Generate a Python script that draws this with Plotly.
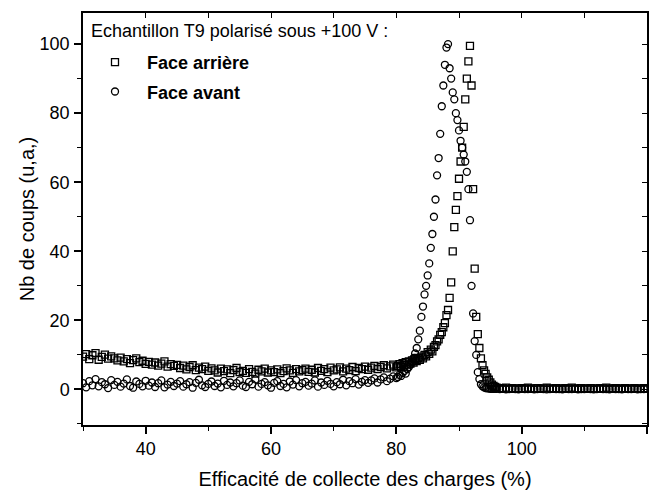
import plotly.graph_objects as go

# ---------------- data ----------------
# bin positions (charge collection efficiency, %)
x_low = [30 + 0.5 * i for i in range(101)]        # 30.0 .. 80.0
x_peak = [80.25 + 0.25 * i for i in range(64)]    # 80.25 .. 96.0
x_tail = [96.5 + 0.5 * i for i in range(48)]      # 96.5 .. 120.0

# Face arrière (squares)
arriere_low = [
    9.5, 10.2, 8.8, 9.9, 10.5, 8.6, 9.4, 10.1, 8.9, 9.6, 9.0,
    8.4, 9.2, 8.1, 8.8, 7.6, 8.5, 9.0, 7.9, 8.3, 7.4,
    8.0, 7.2, 7.8, 6.9, 7.5, 8.1, 6.6, 7.3, 6.8, 7.1,
    6.2, 6.9, 5.8, 6.5, 7.0, 5.6, 6.3, 5.9, 6.6, 5.4,
    6.1, 5.5, 4.9, 6.0, 5.3, 5.8, 4.7, 5.6, 6.2, 5.0,
    5.4, 4.8, 5.9, 5.1, 4.6, 5.7, 5.2, 6.0, 4.9, 5.5,
    5.0, 5.8, 4.7, 5.3, 6.1, 5.5, 4.8, 5.9, 5.2, 5.6,
    6.0, 5.1, 5.7, 4.9, 6.2, 5.4, 5.9, 5.0, 6.3, 5.5,
    5.8, 6.4, 5.2, 6.0, 5.6, 6.5, 5.3, 6.2, 5.9, 6.6,
    5.7, 6.3, 6.8, 5.9, 6.5, 7.0, 6.1, 6.7, 7.2, 6.4,
]
arriere_peak = [
    6.8, 7.3, 6.5, 7.6, 7.0, 7.9, 7.2, 8.1,
    7.5, 8.4, 7.8, 8.8, 8.2, 9.1, 8.6, 9.5,
    9.0, 10.0, 9.6, 10.8, 10.3, 11.5, 11.0, 12.3,
    12.8, 13.9, 14.5, 15.8, 16.6, 18.0, 19.2, 21.5,
    23.0, 26.5, 31.0, 40.0, 47.0, 52.0, 56.0, 61.0,
    66.0, 70.0, 76.0, 84.0, 90.0, 95.0, 99.5, 88.0,
    58.0, 35.0, 21.0, 16.0, 12.0, 9.0, 7.0, 5.5,
    4.5, 3.5, 2.8, 2.0, 1.4, 1.0, 0.7, 0.5,
]
arriere_tail = [
    0.4, 0.3, 0.5, 0.2, 0.4, 0.3, 0.2, 0.4, 0.3, 0.5, 0.2, 0.3,
    0.4, 0.2, 0.3, 0.5, 0.3, 0.2, 0.4, 0.3, 0.2, 0.4, 0.3, 0.5,
    0.2, 0.3, 0.4, 0.2, 0.3, 0.4, 0.3, 0.2, 0.4, 0.3, 0.5, 0.2,
    0.3, 0.4, 0.2, 0.3, 0.4, 0.3, 0.2, 0.4, 0.3, 0.2, 0.4, 0.3,
]

# Face avant (circles)
avant_low = [
    1.8, 0.6, 2.4, 1.2, 3.0, 0.9, 2.1, 1.5, 0.4, 2.7, 1.3,
    2.2, 0.8, 1.7, 2.9, 1.0, 0.5, 2.3, 1.6, 0.9, 2.5,
    1.1, 2.0, 0.7, 1.8, 2.6, 0.6, 1.4, 2.2, 1.0, 1.7,
    2.4, 0.8, 1.5, 2.1, 0.5, 1.9, 2.8, 1.2, 0.7, 1.6,
    2.3, 1.0, 1.7, 0.6, 2.5, 1.3, 2.0, 0.9, 1.8, 2.6,
    1.1, 0.7, 2.2, 1.5, 2.9, 0.8, 1.6, 2.1, 1.2, 0.5,
    1.9, 2.4, 1.0, 1.6, 0.6, 2.3, 1.4, 2.7, 0.9, 1.8,
    2.2, 1.1, 1.7, 2.6, 0.8, 2.0, 1.3, 2.5, 1.6, 0.9,
    2.1, 1.5, 2.8, 1.2, 2.4, 1.8, 3.0, 1.4, 2.2, 2.7,
    1.9, 2.6, 3.2, 2.0, 2.9, 3.5, 2.4, 3.1, 3.8, 3.3,
]
avant_peak = [
    3.6, 4.2, 3.9, 4.8, 5.3, 4.6, 5.9, 6.5,
    7.2, 8.0, 9.1, 10.4, 12.0, 14.5, 17.0, 21.0,
    24.0, 27.5, 30.0, 33.0, 36.5, 41.0, 45.0, 50.0,
    55.0, 62.0, 67.0, 74.0, 82.0, 88.0, 94.0, 99.0,
    100.0, 93.0, 90.0, 86.0, 84.0, 80.0, 78.0, 75.0,
    72.0, 70.0, 68.0, 66.0, 63.0, 58.0, 49.0, 30.0,
    22.0, 14.0, 10.0, 5.0, 3.0, 1.5, 0.9, 0.6,
    0.4, 0.3, 0.3, 0.2, 0.2, 0.2, 0.2, 0.2,
]
avant_tail = [
    0.1, 0.2, 0.0, 0.1, 0.2, 0.1, 0.0, 0.2, 0.1, 0.1, 0.2, 0.0,
    0.1, 0.2, 0.1, 0.0, 0.1, 0.2, 0.1, 0.1, 0.0, 0.2, 0.1, 0.1,
    0.2, 0.0, 0.1, 0.1, 0.2, 0.1, 0.0, 0.1, 0.2, 0.1, 0.1, 0.0,
    0.2, 0.1, 0.1, 0.0, 0.2, 0.1, 0.1, 0.2, 0.0, 0.1, 0.1, 0.2,
]

x_all = x_low + x_peak + x_tail
arriere = arriere_low + arriere_peak + arriere_tail
avant = avant_low + avant_peak + avant_tail

legend_title = "Echantillon T9 polarisé sous +100 V :"
name_arriere = "Face arrière"
name_avant = "Face avant"
x_title = "Efficacité de collecte des charges (%)"
y_title = "Nb de coups (u,a,)"

# ---------------- figure ----------------
FONT = "Liberation Sans, Arial, sans-serif"
fig = go.Figure()
fig.add_trace(go.Scatter(
    x=x_all, y=arriere, mode="markers", name=name_arriere, legendgroup="a",
    marker=dict(symbol="square-open", size=7, color="black", line=dict(width=1.3)),
))
fig.add_trace(go.Scatter(
    x=x_all, y=avant, mode="markers", name=name_avant, legendgroup="b",
    marker=dict(symbol="circle-open", size=7, color="black", line=dict(width=1.3)),
))

axis_common = dict(
    showline=True, linecolor="black", linewidth=1.5,
    ticks="outside", ticklen=7, tickwidth=1.5, tickcolor="black",
    showgrid=False, zeroline=False,
    tickfont=dict(family=FONT, size=18, color="black"),
)
fig.update_layout(
    # full window width (left/right body margins removed below); top keeps the 8 px body margin
    width=662, height=484,
    paper_bgcolor="white", plot_bgcolor="white",
    margin=dict(l=83, r=15, t=5, b=67),
    font=dict(family=FONT, color="black"),
    xaxis=dict(
        range=[30, 120], tick0=0, dtick=20,
        minor=dict(dtick=10, tick0=0, ticks="outside", ticklen=4, tickcolor="black", tickwidth=1.2),
        title=dict(text=x_title, font=dict(family=FONT, size=20), standoff=14),
        **axis_common,
    ),
    yaxis=dict(
        range=[-10.3, 109], tick0=0, dtick=20,
        minor=dict(dtick=10, tick0=0, ticks="outside", ticklen=4, tickcolor="black", tickwidth=1.2),
        title=dict(text=y_title, font=dict(family=FONT, size=20), standoff=0),
        ticklabelstandoff=1,
        **axis_common,
    ),
    xaxis2=dict(
        range=[30, 120], overlaying="x", side="top", anchor="y",
        showline=True, linecolor="black", linewidth=1.5,
        ticks="inside", ticklen=5, tickwidth=1.2, tickcolor="black",
        tick0=0, dtick=10, showticklabels=False, showgrid=False, zeroline=False,
    ),
    yaxis2=dict(
        range=[-10.3, 109], overlaying="y", side="right", anchor="x",
        showline=True, linecolor="black", linewidth=1.5,
        ticks="inside", ticklen=5, tickwidth=1.2, tickcolor="black",
        tick0=0, dtick=10, showticklabels=False, showgrid=False, zeroline=False,
    ),
    showlegend=True,
    legend=dict(
        x=0.0, y=0.925, xanchor="left", yanchor="top",
        bgcolor="rgba(0,0,0,0)", borderwidth=0,
        font=dict(family=FONT, size=18, color="black", weight="bold"),
        itemwidth=54, tracegroupgap=3,
    ),
    annotations=[dict(
        text=legend_title, xref="paper", yref="paper",
        x=0.011, y=0.956, xanchor="left", yanchor="middle", showarrow=False,
        font=dict(family=FONT, size=18, color="black"),
    )],
)
# empty helper trace so the mirrored top/right axes are drawn
fig.add_trace(go.Scatter(x=[], y=[], xaxis="x2", yaxis="y2", showlegend=False, hoverinfo="skip"))

fig.write_html(
    "out.html",
    config={"displayModeBar": False},
    post_script="document.body.style.marginLeft='0';document.body.style.marginRight='0';",
)
